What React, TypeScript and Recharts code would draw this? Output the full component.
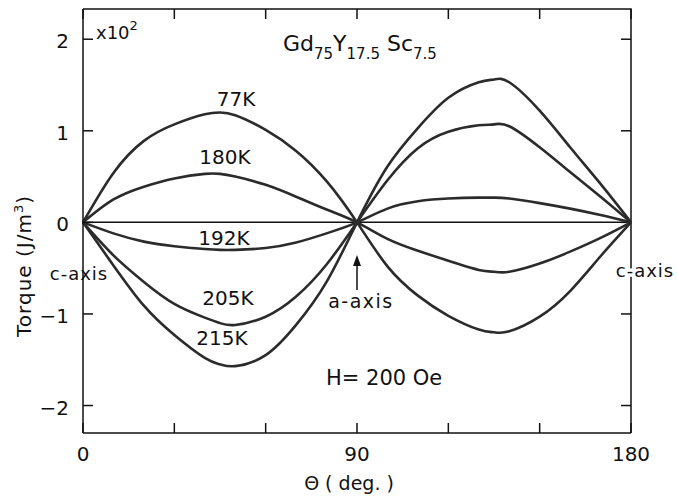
import React from "react";
import { LineChart, Line, XAxis, YAxis, ReferenceLine } from "recharts";

// angle from the c-axis, degrees
const theta = [0, 10, 20, 30, 40, 45, 50, 60, 70, 80, 90, 100, 110, 120, 130, 135, 140, 150, 160, 170, 180];

// torque in units of 10^2 J/m^3
const t77 = [0, 0.54, 0.89, 1.07, 1.18, 1.2, 1.17, 1.01, 0.78, 0.45, 0, -0.48, -0.8, -1.02, -1.17, -1.2, -1.19, -1.03, -0.75, -0.37, 0];
const t180 = [0, 0.25, 0.39, 0.48, 0.53, 0.53, 0.5, 0.41, 0.28, 0.14, 0, -0.18, -0.31, -0.42, -0.52, -0.54, -0.54, -0.45, -0.32, -0.17, 0];
const t192 = [0, -0.12, -0.21, -0.26, -0.29, -0.3, -0.3, -0.28, -0.22, -0.12, 0, 0.15, 0.23, 0.26, 0.27, 0.27, 0.26, 0.21, 0.15, 0.08, 0];
const t205 = [0, -0.36, -0.65, -0.89, -1.04, -1.1, -1.12, -1.03, -0.81, -0.46, 0, 0.46, 0.81, 0.99, 1.06, 1.07, 1.05, 0.82, 0.55, 0.28, 0];
const t215 = [0, -0.47, -0.91, -1.23, -1.48, -1.55, -1.57, -1.45, -1.12, -0.65, 0, 0.61, 1.03, 1.36, 1.53, 1.56, 1.53, 1.22, 0.82, 0.42, 0];

const xTicks = [0, 30, 60, 90, 120, 150, 180];
const xLabeled = [0, 90, 180];
const yTicks = [-2, -1, 0, 1, 2];
const X_MIN = 0;
const X_MAX = 180;
const Y_MIN = -2.3;
const Y_MAX = 2.33;

const data = theta.map((th, i) => ({
  theta: th,
  k77: t77[i],
  k180: t180[i],
  k192: t192[i],
  k205: t205[i],
  k215: t215[i],
}));

const W = 678;
const H = 498;
const MARGIN = { top: 9, right: 47, bottom: 0, left: 0 };
const X_AXIS_H = 65;
const Y_AXIS_W = 83;
const PLOT_L = MARGIN.left + Y_AXIS_W;
const PLOT_T = MARGIN.top;
const PLOT_R = W - MARGIN.right;
const PLOT_B = H - X_AXIS_H;
const PLOT_W = PLOT_R - PLOT_L;
const PLOT_H = PLOT_B - PLOT_T;

const INK = "#111";
const CURVE = "#2b2b2b";
const FONT = "DejaVu Sans";
const TICK = 10;
const TICK_DX = (TICK * (X_MAX - X_MIN)) / PLOT_W;
const TICK_DY = (TICK * (Y_MAX - Y_MIN)) / PLOT_H;

const BottomTick = ({ x, y, payload }: any) => (
  <g>
    <line x1={x} x2={x} y1={y} y2={y - TICK} stroke={INK} strokeWidth={1.5} />
    {xLabeled.includes(payload.value) && (
      <text x={x} y={y + 28} textAnchor="middle" fontSize={20} fill={INK} fontFamily={FONT}>
        {payload.value}
      </text>
    )}
  </g>
);

const LeftTick = ({ x, y, payload }: any) => (
  <g>
    <line x1={x} x2={x + TICK} y1={y} y2={y} stroke={INK} strokeWidth={1.5} />
    <text x={x - 14} y={y + 2} textAnchor="end" dominantBaseline="central" fontSize={20} fill={INK} fontFamily={FONT}>
      {payload.value < 0 ? `\u2212${-payload.value}` : payload.value}
    </text>
  </g>
);

const halo = { stroke: "#fff", strokeWidth: 7, paintOrder: "stroke" as const };

export default function App() {
  const curve = { type: "natural" as const, stroke: CURVE, strokeWidth: 2.6, dot: false, isAnimationActive: false };
  const axisLine = { stroke: INK, strokeWidth: 1.5 };
  const frame = { stroke: INK, strokeWidth: 1.5, ifOverflow: "visible" as const };
  return (
    <div style={{ position: "absolute", left: 0, top: 0, width: W, height: H, background: "#fff" }}>
      <LineChart width={W} height={H} data={data} margin={MARGIN}>
        <XAxis dataKey="theta" type="number" domain={[X_MIN, X_MAX]} ticks={xTicks} height={X_AXIS_H}
          axisLine={axisLine} tickLine={false} tickSize={0} tickMargin={0} tick={<BottomTick />} />
        <YAxis type="number" domain={[Y_MIN, Y_MAX]} ticks={yTicks} width={Y_AXIS_W} allowDataOverflow
          axisLine={axisLine} tickLine={false} tickSize={0} tickMargin={0} tick={<LeftTick />} />
        {xTicks.map((t) => (
          <ReferenceLine key={`tt${t}`} {...frame} segment={[{ x: t, y: Y_MAX }, { x: t, y: Y_MAX - TICK_DY }]} />
        ))}
        {yTicks.map((t) => (
          <ReferenceLine key={`rt${t}`} {...frame} segment={[{ x: X_MAX - TICK_DX, y: t }, { x: X_MAX, y: t }]} />
        ))}
        <ReferenceLine y={0} stroke={INK} strokeWidth={1.5} />
        <Line {...curve} dataKey="k77" />
        <Line {...curve} dataKey="k180" />
        <Line {...curve} dataKey="k192" />
        <Line {...curve} dataKey="k205" />
        <Line {...curve} dataKey="k215" />

        {/* top and right sides of the frame */}
        <path d={`M${PLOT_L},${PLOT_T} H${PLOT_R} V${PLOT_B}`} fill="none" stroke={INK} strokeWidth={1.5} />

        <g fontFamily={FONT} fill={INK}>
          <text x={96} y={39} fontSize={18}>x10<tspan dy={-9} fontSize={13}>2</tspan></text>
          <text x={283} y={51} fontSize={22}>
            Gd<tspan dy={8} fontSize={15}>75</tspan>
            <tspan dy={-8} fontSize={22}>Y</tspan><tspan dy={8} fontSize={15}>17.5</tspan>
            <tspan dy={-8} fontSize={22}> Sc</tspan><tspan dy={8} fontSize={15}>7.5</tspan>
          </text>
          <text x={236} y={106} fontSize={20} textAnchor="middle">77K</text>
          <text x={225} y={164} fontSize={20} textAnchor="middle">180K</text>
          <text x={224} y={245} fontSize={20} textAnchor="middle">192K</text>
          <text x={228} y={305} fontSize={20} textAnchor="middle">205K</text>
          <text x={222} y={345} fontSize={20} textAnchor="middle">215K</text>
          <text x={79} y={280} fontSize={18} textAnchor="middle" letterSpacing={1} {...halo}>c-axis</text>
          <text x={645} y={277} fontSize={18} textAnchor="middle" letterSpacing={1} {...halo}>c-axis</text>
          <text x={361} y={308} fontSize={19} textAnchor="middle" letterSpacing={1.5}>a-axis</text>
          <line x1={357} x2={357} y1={290} y2={262} stroke={INK} strokeWidth={1.5} />
          <path d="M353,266 L357,255 L361,266 Z" fill={INK} />
          <text x={326} y={385} fontSize={21}>{"H= 200 Oe"}</text>
          <text x={349} y={490} fontSize={19} textAnchor="middle">{"\u0398 ( deg. )"}</text>
          <text x={0} y={0} fontSize={20} letterSpacing={1} textAnchor="middle" transform="translate(31,266) rotate(-90)">
            Torque (J/m<tspan dy={-8} fontSize={13}>3</tspan><tspan dy={8}>)</tspan>
          </text>
        </g>
      </LineChart>
    </div>
  );
}
